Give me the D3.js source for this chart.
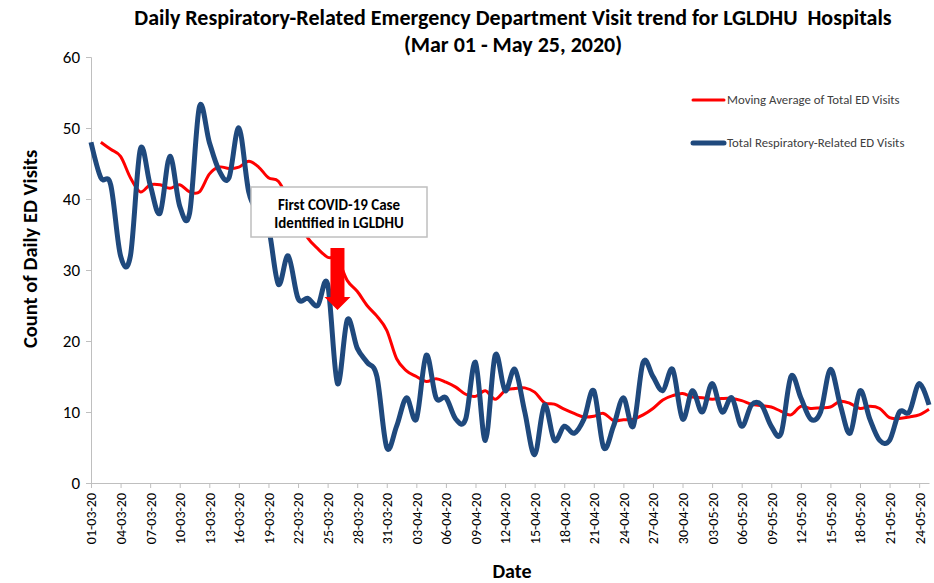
<!DOCTYPE html>
<html>
<head>
<meta charset="utf-8">
<script src="https://cdn.jsdelivr.net/npm/d3@7"></script>
<style>
  body { margin: 0; background: #fff; }
  svg { font-family: Calibri, Carlito, Lato, "Noto Sans", sans-serif; }
</style>
</head>
<body>
<div id="vis"></div>
<script>
'use strict'

// daily respiratory-related ED visits, 01-03-20 .. 25-05-20
const respVisits = [48,43,42,32,32,47,42,38,46,39,38,53,48,44,43,50,41,38,36,28,
  32,26,26,25,28,14,23,19,17,15,5,8,12,9,18,12,12,9,9,17,
  6,18,13,16,10,4,11,6,8,7,9,13,5,8,12,8,17,15,13,16,
  9,13,10,14,10,12,8,11,11,8,7,15,12,9,10,16,11,7,13,9,
  6,6,10,10,14,11]

// moving average of total ED visits (starts on day 2)
const movingAvg = [null,48,47,46,43,41,42,42,41.5,42,41,41,43.5,44.5,44.3,44.5,45.3,44.5,43,42.5,
  40,37,34.5,33,31.8,31.5,28.5,27,25,23.5,21.5,17.5,15.8,15,14.3,14.7,14.2,13.5,12.5,12.2,
  13,11.8,13,13.3,13.4,12.8,11.3,11.1,10.4,9.8,9.3,9.4,9.8,8.8,8.9,9,9.6,10.5,11.7,12.3,
  12.6,12.1,12,11.8,11.9,11.9,11.6,11.1,10.9,10.7,10.1,9.6,10.8,10.5,10.6,10.7,11.5,11.2,10.5,10.8,
  10.5,9.2,9.1,9.3,9.6,10.4]

const startDate = new Date(2020, 2, 1)
const dates = d3.timeDay.range(startDate, d3.timeDay.offset(startDate, respVisits.length))
const fmt = d3.timeFormat("%d-%m-%y")

const yTicks = [0,10,20,30,40,50,60]
const firstCaseIndex = 25

const width = 934, height = 583
const margin = {top: 57, right: 5, bottom: 100, left: 91}

let svg = d3.select("#vis").append("svg")
  .attr("width", width)
  .attr("height", height)

let x = d3.scaleLinear()
  .domain([0, respVisits.length - 1])
  .range([margin.left, width - margin.right])

let y = d3.scaleLinear()
  .domain([0, 60])
  .range([height - margin.bottom, margin.top])

// y axis
let yAxis = svg.append("g")
  .attr("transform", "translate(" + margin.left + ",0)")
  .call(d3.axisLeft(y).tickValues(yTicks).tickSize(5).tickPadding(6))
yAxis.select(".domain").attr("stroke", "#bfbfbf")
yAxis.selectAll(".tick line").attr("stroke", "#bfbfbf")
yAxis.selectAll(".tick text").attr("font-size", 17).attr("fill", "#000")
  .attr("font-family", "Calibri, Carlito, Lato, sans-serif")

// x axis, label every third day
let xTickIdx = d3.range(0, respVisits.length, 3)
let xAxis = svg.append("g")
  .attr("transform", "translate(0," + y(0) + ")")
  .call(d3.axisBottom(x).tickValues(xTickIdx).tickSize(5).tickSizeOuter(0)
    .tickFormat(function(i){ return fmt(dates[i]) }))
xAxis.select(".domain").attr("stroke", "#bfbfbf")
xAxis.selectAll(".tick line").attr("stroke", "#bfbfbf")
xAxis.selectAll(".tick text")
  .attr("font-size", 14)
  .attr("fill", "#000")
  .attr("font-family", "Calibri, Carlito, Lato, sans-serif")
  .attr("transform", "rotate(-90)")
  .attr("text-anchor", "end")
  .attr("x", -10)
  .attr("y", 0)
  .attr("dy", "0.35em")

// lines
let curve = d3.curveCardinal.tension(0)

let maLine = d3.line()
  .defined(function(d){ return d != null })
  .x(function(d, i){ return x(i) })
  .y(function(d){ return y(d) })
  .curve(curve)

let respLine = d3.line()
  .x(function(d, i){ return x(i) })
  .y(function(d){ return y(d) })
  .curve(curve)

svg.append("path")
  .datum(movingAvg)
  .attr("fill", "none")
  .attr("stroke", "#ff0000")
  .attr("stroke-width", 3)
  .attr("d", maLine)

svg.append("path")
  .datum(respVisits)
  .attr("fill", "none")
  .attr("stroke", "#1f497d")
  .attr("stroke-width", 5)
  .attr("stroke-linejoin", "round")
  .attr("d", respLine)

// annotation box
let ax = x(firstCaseIndex)
let note = svg.append("g")
note.append("rect")
  .attr("x", 251).attr("y", 187).attr("width", 176).attr("height", 50)
  .attr("fill", "#fff").attr("stroke", "#bfbfbf").attr("stroke-width", 1.5)
note.selectAll("text")
  .data(["First COVID-19 Case", "Identified in LGLDHU"])
  .join("text")
  .attr("x", 339)
  .attr("y", function(d, i){ return 210 + i * 18 })
  .attr("text-anchor", "middle")
  .attr("font-weight", "bold")
  .attr("font-size", 15)
  .text(function(d){ return d })

// red arrow pointing at first case date
svg.append("path")
  .attr("fill", "#ff0000")
  .attr("d", "M" + (ax - 7) + ",248 L" + (ax + 7) + ",248 L" + (ax + 7) + ",297 L" + (ax + 13) + ",297 L" + ax + ",310 L" + (ax - 13) + ",297 L" + (ax - 7) + ",297 Z")

// legend
let legend = svg.append("g")
let legendItems = [
  {name: "Moving Average of Total ED Visits", color: "#ff0000", w: 3, y: 100},
  {name: "Total Respiratory-Related ED Visits", color: "#1f497d", w: 5, y: 143}
]
legend.selectAll("line").data(legendItems).join("line")
  .attr("x1", 693).attr("x2", 724)
  .attr("y1", d => d.y).attr("y2", d => d.y)
  .attr("stroke", d => d.color).attr("stroke-width", d => d.w)
  .attr("stroke-linecap", "round")
legend.selectAll("text").data(legendItems).join("text")
  .attr("x", 727).attr("y", d => d.y).attr("dy", "0.35em")
  .attr("font-size", 12.8).attr("fill", "#404040")
  .text(d => d.name)

// titles
svg.append("text")
  .attr("x", 513).attr("y", 25)
  .style("white-space", "pre")
  .attr("text-anchor", "middle").attr("font-weight", "bold").attr("font-size", 22)
  .text("Daily Respiratory-Related Emergency Department Visit trend for LGLDHU  Hospitals")
svg.append("text")
  .attr("x", 513).attr("y", 52)
  .attr("text-anchor", "middle").attr("font-weight", "bold").attr("font-size", 22)
  .text("(Mar 01 - May 25, 2020)")

svg.append("text")
  .attr("transform", "translate(37,249) rotate(-90)")
  .attr("text-anchor", "middle").attr("font-weight", "bold").attr("font-size", 20.5)
  .text("Count of Daily ED Visits")

svg.append("text")
  .attr("x", 512).attr("y", 578)
  .attr("text-anchor", "middle").attr("font-weight", "bold").attr("font-size", 20)
  .text("Date")
</script>
</body>
</html>
